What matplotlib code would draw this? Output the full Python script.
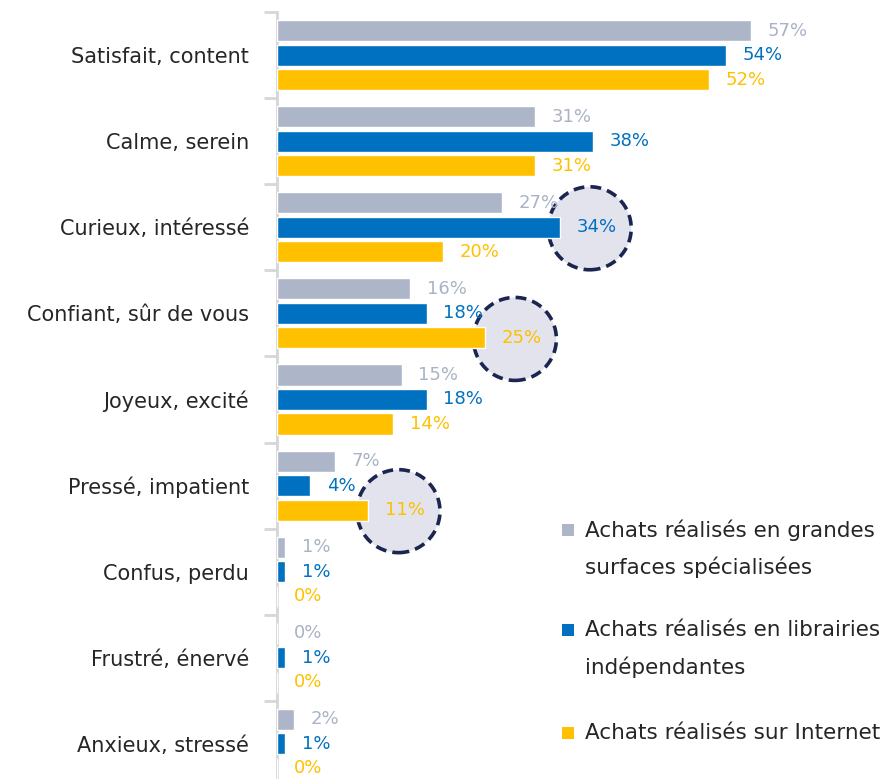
import matplotlib
matplotlib.use("Agg")
import matplotlib.pyplot as plt
import matplotlib.transforms as mtransforms
from matplotlib.patches import Circle, Rectangle
import numpy as np

plt.rcParams['font.family'] = ['DejaVu Sans']

categories = ["Satisfait, content", "Calme, serein", "Curieux, intéressé",
              "Confiant, sûr de vous", "Joyeux, excité", "Pressé, impatient",
              "Confus, perdu", "Frustré, énervé", "Anxieux, stressé"]
grandes_surfaces = [57, 31, 27, 16, 15, 7, 1, 0, 2]
librairies = [54, 38, 34, 18, 18, 4, 1, 1, 1]
internet = [52, 31, 20, 25, 14, 11, 0, 0, 0]
series_names = ["Achats réalisés en grandes\nsurfaces spécialisées",
                "Achats réalisés en librairies\nindépendantes",
                "Achats réalisés sur Internet"]
colors = ["#adb6c9", "#0070c0", "#ffc000"]
label_colors = ["#a9b3c6", "#0070c0", "#ffc000"]
# (category index, series index) of highlighted values
highlights = [(2, 1), (3, 2), (5, 2)]

W, H = 884, 779
fig = plt.figure(figsize=(W / 100, H / 100), dpi=100)
ax = fig.add_axes([277 / W, 1 - 787 / H, 607 / W, 775 / H])

y = np.arange(len(categories))
pitch = 0.285
height = 0.245
all_series = [grandes_surfaces, librairies, internet]
for i, vals in enumerate(all_series):
    ax.barh(y + (i - 1) * pitch, vals, height=height, color=colors[i],
            edgecolor="white", linewidth=1.0, label=series_names[i], zorder=3)

# value labels
for i, vals in enumerate(all_series):
    for j, v in enumerate(vals):
        yy = j + (i - 1) * pitch
        ax.annotate(f"{v}%", xy=(v, yy), xytext=(12, 0), textcoords="offset points",
                    ha="left", va="center", fontsize=13, color=label_colors[i],
                    zorder=5)

# dashed circles around highlighted values
for (j, i) in highlights:
    v = all_series[i][j]
    yy = j + (i - 1) * pitch
    trans = fig.dpi_scale_trans + mtransforms.ScaledTranslation(v, yy, ax.transData)
    circ = Circle((0.30, -0.01), radius=0.415, transform=trans,
                  facecolor="#e2e3ec", edgecolor="#1b2550", linewidth=2.6,
                  linestyle=(0, (3.0, 1.7)), zorder=2, clip_on=False)
    ax.add_patch(circ)

ax.set_xlim(0, 73)
ax.set_ylim(len(categories) - 0.5, -0.5)

for s in ["top", "right", "bottom"]:
    ax.spines[s].set_visible(False)
ax.spines["left"].set_color("#d6d6d6")
ax.spines["left"].set_linewidth(2)
ax.set_xticks([])
ax.set_yticks(y)
ax.set_yticklabels(categories, fontsize=15, color="#262626")
ax.tick_params(axis="y", which="major", length=0, pad=20)
ax.set_yticks(np.arange(-0.5, len(categories) + 0.5, 1), minor=True)
ax.tick_params(axis="y", which="minor", length=9.5, width=2, color="#d6d6d6")

# legend: square marker aligned with the first line of each entry
px = lambda xp, yp: (xp / W, 1 - yp / H)
entry_tops = [530, 630, 733]
line_step = 37
sq = 12
for name, col, yc in zip(series_names, colors, entry_tops):
    x0, y0 = px(562, yc + sq / 2)
    fig.patches.append(Rectangle((x0, y0), sq / W, sq / H, transform=fig.transFigure,
                                 facecolor=col, edgecolor="none"))
    for k, line in enumerate(name.split("\n")):
        tx, ty = px(585, yc + k * line_step)
        fig.text(tx, ty, line, ha="left", va="center", fontsize=15.5, color="#262626")

fig.savefig("out.png", dpi=100)
